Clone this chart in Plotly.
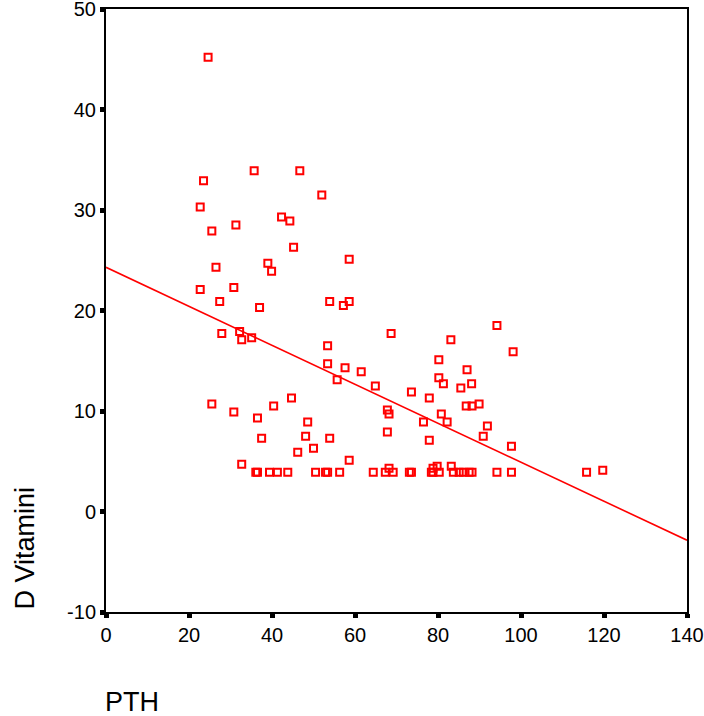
import plotly.graph_objects as go

# PTH (x) and D Vitamini (y) values
pth_values = [
    24.6, 35.7, 46.7, 23.5, 52.0, 22.7, 25.5, 31.3, 42.3, 44.3,
    45.2, 58.6, 26.5, 39.0, 39.9, 22.7, 30.8, 27.4, 37.0, 53.9,
    58.6, 57.2, 27.9, 32.2, 32.7, 35.1, 53.4, 53.4, 57.6, 61.5,
    55.7, 64.9, 25.5, 30.8, 36.5, 40.4, 44.7, 48.6, 37.5, 48.1,
    53.9, 50.0, 46.2, 32.7, 58.6,
    36.1, 36.5, 39.4, 41.3, 43.8, 50.5, 52.9, 53.4, 56.3, 64.4,
    67.3, 69.2, 73.1, 73.6, 78.4, 78.8, 80.3, 83.7, 85.1, 86.1,
    87.5, 88.2, 94.2, 97.7, 115.8,
    68.7, 94.2, 83.1, 98.1, 80.2, 87.0, 80.2, 81.3, 85.5, 88.1,
    73.6, 77.9, 67.8, 68.2, 80.8, 76.5, 82.2, 86.8, 88.2, 89.9,
    91.9, 90.9, 67.8, 77.9, 97.7, 68.2, 79.8, 83.2, 78.8, 119.7,
]
vitd_values = [
    45.2, 33.9, 33.9, 32.9, 31.5, 30.3, 27.9, 28.5, 29.3, 28.9,
    26.3, 25.1, 24.3, 24.7, 23.9, 22.1, 22.3, 20.9, 20.3, 20.9,
    20.9, 20.5, 17.7, 17.9, 17.1, 17.3, 16.5, 14.7, 14.3, 13.9,
    13.1, 12.5, 10.7, 9.9, 9.3, 10.5, 11.3, 8.9, 7.3, 7.5,
    7.3, 6.3, 5.9, 4.7, 5.1,
    3.9, 3.9, 3.9, 3.9, 3.9, 3.9, 3.9, 3.9, 3.9, 3.9,
    3.9, 3.9, 3.9, 3.9, 3.9, 3.9, 3.9, 3.9, 3.9, 3.9,
    3.9, 3.9, 3.9, 3.9, 3.9,
    17.7, 18.5, 17.1, 15.9, 15.1, 14.1, 13.3, 12.7, 12.3, 12.7,
    11.9, 11.3, 10.1, 9.7, 9.7, 8.9, 8.9, 10.5, 10.5, 10.7,
    8.5, 7.5, 7.9, 7.1, 6.5, 4.3, 4.5, 4.5, 4.3, 4.1,
]

# Linear fit line
fit_intercept = 24.3
fit_slope = -0.194
x_range = [0, 140]
y_range = [-10, 50]
x_ticks = [0, 20, 40, 60, 80, 100, 120, 140]
y_ticks = [-10, 0, 10, 20, 30, 40, 50]
y_tick_labels = ["-10", "0", "10", "20", "30", "40", "50"]

FONT = "Arial, Liberation Sans, sans-serif"
RED = "#ff0000"

fig = go.Figure()
fig.add_trace(go.Scatter(
    x=pth_values, y=vitd_values, mode="markers",
    marker=dict(symbol="square-open", size=7, color=RED,
                line=dict(color=RED, width=2)),
    showlegend=False, hoverinfo="x+y", cliponaxis=False,
))
fig.add_trace(go.Scatter(
    x=x_range, y=[fit_intercept + fit_slope * v for v in x_range],
    mode="lines", line=dict(color=RED, width=1.6),
    showlegend=False, hoverinfo="skip",
))

axis_common = dict(
    showgrid=False, zeroline=False, showline=True, linecolor="black",
    linewidth=2, mirror=True, ticks="outside", ticklen=4, tickwidth=5,
    tickcolor="black", automargin=False, ticklabeloverflow="allow",
    tickfont=dict(family=FONT, size=20, color="black"),
)
fig.update_xaxes(range=x_range, tickvals=x_ticks, **axis_common)
fig.update_yaxes(range=y_range, tickvals=y_ticks, ticktext=y_tick_labels,
                 **axis_common)

fig.add_annotation(text="PTH", xref="paper", yref="paper", x=-0.005, y=-0.149,
                   xanchor="left", yanchor="middle", showarrow=False,
                   font=dict(family=FONT, size=27, color="black"))
fig.add_annotation(text="D Vitamini", xref="paper", yref="paper",
                   x=-0.141, y=0, xanchor="center", yanchor="bottom",
                   textangle=-90, showarrow=False,
                   font=dict(family=FONT, size=27, color="black"))

fig.update_layout(
    width=704, height=716,
    margin=dict(l=106, r=17, t=9, b=104, autoexpand=False),
    paper_bgcolor="white", plot_bgcolor="white",
    font=dict(family=FONT, color="black"),
)

fig.write_html(
    "out.html",
    config={"displayModeBar": False},
    post_script="document.body.style.margin='0px';"
                "document.body.style.overflow='hidden';",
)
